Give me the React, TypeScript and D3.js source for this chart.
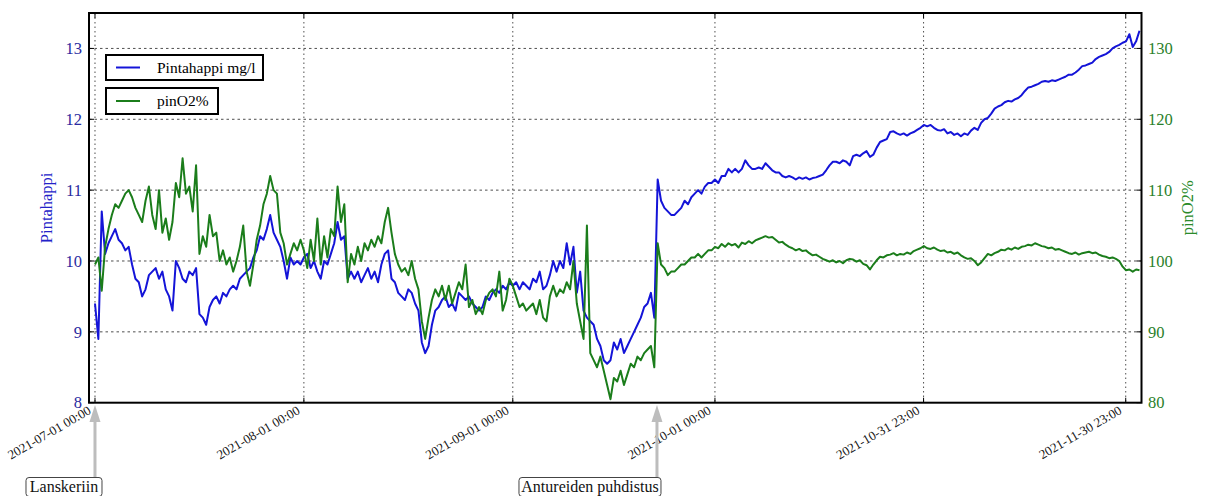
import * as d3 from 'd3'

// 12-hour samples starting 2021-07-01 00:00
const startTime = '2021-07-01T00:00:00Z'
const stepHours = 12

const pintahappi = [
  9.4, 8.9, 10.7, 10.1, 10.25, 10.35, 10.45, 10.3, 10.25, 10.15,
  10.2, 9.95, 9.75, 9.7, 9.5, 9.6, 9.8, 9.85, 9.9, 9.75,
  9.85, 9.6, 9.5, 9.3, 10.0, 9.9, 9.75, 9.7, 9.85, 9.8,
  9.9, 9.25, 9.2, 9.1, 9.35, 9.45, 9.5, 9.4, 9.55, 9.5,
  9.6, 9.65, 9.6, 9.75, 9.8, 9.85, 9.9, 10.05, 10.15, 10.35,
  10.3, 10.45, 10.65, 10.4, 10.3, 10.2, 10.0, 9.75, 10.05, 9.95,
  10.0, 9.95, 10.05, 10.1, 9.9, 10.0, 9.85, 9.75, 10.0, 9.95,
  10.1, 10.25, 10.55, 10.3, 10.35, 9.75, 9.85, 9.75, 9.85, 9.7,
  9.8, 9.9, 9.75, 9.85, 9.7, 9.95, 10.1, 10.15, 9.75, 9.7,
  9.55, 9.5, 9.45, 9.6, 9.55, 9.4, 9.3, 8.85, 8.7, 8.8,
  9.1, 9.3, 9.35, 9.45, 9.5, 9.35, 9.4, 9.3, 9.55, 9.5,
  9.45, 9.5, 9.4, 9.35, 9.3, 9.35, 9.5, 9.45, 9.55, 9.6,
  9.55, 9.65, 9.6, 9.7, 9.65, 9.7, 9.6, 9.7, 9.65, 9.6,
  9.75, 9.7, 9.85, 9.6, 9.65, 9.8, 10.0, 9.85, 10.0, 9.9,
  10.25, 9.95, 10.2, 9.55, 9.85, 9.3, 9.2, 9.15, 9.1, 8.9,
  8.8, 8.6, 8.55, 8.6, 8.85, 8.75, 8.9, 8.7, 8.8, 8.9,
  9.0, 9.1, 9.2, 9.35, 9.4, 9.55, 9.2, 11.15, 10.85, 10.75,
  10.7, 10.65, 10.65, 10.7, 10.75, 10.85, 10.8, 10.9, 10.95, 11.0,
  10.95, 11.05, 11.1, 11.1, 11.15, 11.1, 11.2, 11.2, 11.3, 11.25,
  11.3, 11.25, 11.3, 11.42, 11.35, 11.3, 11.3, 11.32, 11.3, 11.38,
  11.33, 11.28, 11.25, 11.25, 11.2, 11.18, 11.2, 11.18, 11.15, 11.18,
  11.16, 11.18, 11.15, 11.17, 11.18, 11.2, 11.22, 11.28, 11.35, 11.4,
  11.4, 11.38, 11.42, 11.4, 11.35, 11.48, 11.5, 11.48, 11.52, 11.55,
  11.47, 11.5, 11.6, 11.68, 11.7, 11.72, 11.82, 11.83, 11.8, 11.78,
  11.8, 11.77, 11.8, 11.82, 11.85, 11.88, 11.92, 11.9, 11.92, 11.88,
  11.85, 11.84, 11.86, 11.8, 11.82, 11.78, 11.8, 11.76, 11.8, 11.78,
  11.84, 11.88, 11.85, 11.95, 12.0, 12.02, 12.08, 12.15, 12.18, 12.2,
  12.24, 12.26, 12.25, 12.28, 12.3, 12.34, 12.4, 12.45, 12.46, 12.48,
  12.5, 12.53, 12.54, 12.53, 12.55, 12.54, 12.56, 12.58, 12.6, 12.63,
  12.63, 12.66, 12.7, 12.75, 12.76, 12.78, 12.8, 12.85, 12.88, 12.9,
  12.92, 12.95, 13.0, 13.03, 13.05, 13.08, 13.1, 13.2, 13.02, 13.1,
  13.25,
]

const pinO2 = [
  99.5, 100.5, 95.8, 102, 104.5, 106.5, 108, 107.5, 108.5, 109.5,
  110, 109, 107.5, 106.5, 105.5, 108.5, 110.5, 106.5, 104.5, 110,
  104, 106, 103, 105.5, 111, 109, 114.5, 109.5, 110.5, 107,
  113.5, 101, 103.5, 102, 106.5, 103.5, 104, 100, 101.5, 99.5,
  100.5, 98.5, 100, 102, 105, 98.5, 96.5, 99.5, 103, 105,
  108, 109.5, 112, 110, 109.5, 104, 102.5, 99.5, 101, 102.5,
  101.5, 103, 101.5, 99, 103, 100, 106, 99.5, 103.5, 100.5,
  104.5, 103.5, 110.5, 105.5, 108, 97, 101, 99.5, 102, 100,
  102.5, 101.5, 103, 102, 103.5, 102.5, 105.5, 107.5, 104, 101,
  99.5, 98.5, 99, 98, 100, 97.5, 96, 91.5, 89, 92,
  94.5, 96, 95, 96.5, 94.5, 96.5, 94, 95.5, 97, 96,
  99.5, 93.5, 94.5, 92.5, 93.5, 92.5, 94.5, 95.5, 96, 95,
  98.5, 93, 94.5, 97.5, 96.5, 95, 93.5, 94, 93, 93.5,
  94, 92.5, 94.5, 92, 91.5, 95, 96.5, 95, 96, 95.5,
  97, 96, 100, 94, 91.5, 89, 105, 87, 86, 85,
  86.5, 84.5, 82.5, 80.5, 83.5, 83, 84.5, 82.5, 84, 85.5,
  85, 86.5, 86, 87, 87.5, 88, 85, 102.5, 99.5, 99,
  98, 98.5, 98.5, 99, 99.5, 99.5, 100, 100.5, 100.5, 101,
  100.5, 101, 101.5, 101.5, 102, 101.8, 102.4, 102, 102.5, 102.2,
  102.4, 101.9, 102.6, 102.4, 102.8, 102.5, 102.9, 103.1, 103.3, 103.5,
  103.3, 103.4, 103, 102.6, 102.7, 102.3, 102, 101.8, 101.5, 101.7,
  101.4, 101.5, 101.1, 100.8, 100.9, 100.6, 100.3, 100.1, 99.9, 100.1,
  99.8, 100, 99.7, 100.1, 100.3, 100.2, 99.9, 100.1, 99.6, 99.4,
  98.8, 99.5, 100.1, 100.6, 100.5, 100.8, 100.9, 101.1, 100.8, 101,
  100.9, 101.2, 101, 101.4, 101.6, 101.8, 102.1, 101.8, 101.7, 101.9,
  101.6, 101.4, 101.5, 101.2, 101.3, 101, 101.2, 100.8, 100.5, 100.3,
  100.4, 100, 99.4, 99.8, 100.4, 101, 100.8, 101.1, 101.3, 101.6,
  101.5, 101.8, 101.6, 101.9, 101.7, 102, 102.1, 102.3, 102.2, 102.5,
  102.3, 102.1, 102, 101.8, 101.9, 101.6, 101.7, 101.5, 101.3, 101.1,
  101, 101.2, 100.9, 101.1, 101.2, 101.3, 101.1, 101.2, 100.9, 100.7,
  100.6, 100.4, 100.5, 100.3, 100, 99.2, 98.7, 98.8, 98.5, 98.8,
  98.7,
]

const xTickLabels = [
  '2021-07-01 00:00',
  '2021-08-01 00:00',
  '2021-09-01 00:00',
  '2021-10-01 00:00',
  '2021-10-31 23:00',
  '2021-11-30 23:00',
]
const leftTicks = [8, 9, 10, 11, 12, 13]
const rightTicks = [80, 90, 100, 110, 120, 130]

const annotationLabels = ['Lanskeriin', 'Antureiden puhdistus']
const annotationTimes = ['2021-07-01T00:00:00Z', '2021-09-22T09:30:00Z']

const FONT = '"Liberation Serif", "DejaVu Serif", serif'
const BLUE = '#1414d8'
const GREEN = '#1b7d1b'

export default function App() {
  const W = 1205
  const H = 496
  const L = 89
  const R = 1141.5
  const T = 13
  const B = 402.7

  const x = d3
    .scaleUtc()
    .domain([new Date('2021-06-30T02:40:00Z'), new Date('2021-12-03T07:10:00Z')])
    .range([L, R])
  const yL = d3.scaleLinear().domain([8, 13.5]).range([B, T])
  const yR = d3.scaleLinear().domain([80, 135]).range([B, T])

  const t0 = new Date(startTime).getTime()
  const times = pintahappi.map((_, i) => new Date(t0 + i * stepHours * 3600e3))

  const blueLine = d3
    .line<number>()
    .x((_, i) => x(times[i]))
    .y(d => yL(d))
  const greenLine = d3
    .line<number>()
    .x((_, i) => x(times[i]))
    .y(d => yR(d))

  const tickDates = xTickLabels.map(s => new Date(s.replace(' ', 'T') + ':00Z'))
  const annX = annotationTimes.map(s => x(new Date(s)))
  const boxW = [76, 142]
  const boxOff = [-69, -138]

  return (
    <svg
      width={W}
      height={H}
      style={{ position: 'absolute', left: 0, top: 0, background: '#fff' }}
      fontFamily={FONT}
    >
      <defs>
        <clipPath id="plot">
          <rect x={L} y={T} width={R - L} height={B - T} />
        </clipPath>
      </defs>
      <rect x={0} y={0} width={W} height={H} fill="#fff" />

      {/* grid */}
      <g stroke="#222" strokeWidth={0.8} strokeDasharray="1.5,3">
        {tickDates.map((d, i) => (
          <line key={'gx' + i} x1={x(d)} x2={x(d)} y1={T} y2={B} />
        ))}
      </g>
      <g stroke="#222" strokeWidth={0.8} strokeDasharray="2.5,3">
        {leftTicks.slice(1).map(v => (
          <line key={'gy' + v} x1={L} x2={R} y1={yL(v)} y2={yL(v)} />
        ))}
      </g>

      {/* series */}
      <g clipPath="url(#plot)" fill="none" strokeLinejoin="round">
        <path d={blueLine(pintahappi) ?? ''} stroke={BLUE} strokeWidth={2} />
        <path d={greenLine(pinO2) ?? ''} stroke={GREEN} strokeWidth={2} />
      </g>

      {/* ticks */}
      <g stroke="#000" strokeWidth={1}>
        {tickDates.map((d, i) => (
          <g key={'tx' + i}>
            <line x1={x(d)} x2={x(d)} y1={B} y2={B - 5} />
            <line x1={x(d)} x2={x(d)} y1={T} y2={T + 5} />
          </g>
        ))}
        {leftTicks.map(v => (
          <line key={'tl' + v} x1={L} x2={L + 5} y1={yL(v)} y2={yL(v)} />
        ))}
        {rightTicks.map(v => (
          <line key={'tr' + v} x1={R} x2={R - 5} y1={yR(v)} y2={yR(v)} />
        ))}
      </g>

      {/* frame */}
      <rect x={L} y={T} width={R - L} height={B - T} fill="none" stroke="#000" strokeWidth={2} />

      {/* tick labels */}
      <g fontSize={16.5} fill="#2a2aa0" textAnchor="end">
        {leftTicks.map(v => (
          <text key={'ll' + v} x={82} y={yL(v)} dy="0.35em">
            {v}
          </text>
        ))}
      </g>
      <g fontSize={16.5} fill="#2a7f2a" textAnchor="start">
        {rightTicks.map(v => (
          <text key={'rl' + v} x={1148} y={yR(v)} dy="0.35em">
            {v}
          </text>
        ))}
      </g>
      <g fontSize={13} fill="#111" textAnchor="end">
        {tickDates.map((d, i) => (
          <text key={'xl' + i} transform={`translate(${x(d) - 3},${413}) rotate(-30)`}>
            {xTickLabels[i]}
          </text>
        ))}
      </g>

      {/* axis titles */}
      <text
        transform={`translate(52,${(T + B) / 2}) rotate(-90)`}
        textAnchor="middle"
        fontSize={16.5}
        fill="#2222c8"
      >
        Pintahappi
      </text>
      <text
        transform={`translate(1193,${(T + B) / 2}) rotate(-90)`}
        textAnchor="middle"
        fontSize={16.5}
        fill="#2a8a2a"
      >
        pinO2%
      </text>

      {/* legends */}
      <g>
        <rect x={106} y={55} width={157} height={25} fill="#fff" stroke="#000" strokeWidth={2} />
        <line x1={116} x2={140} y1={67.5} y2={67.5} stroke={BLUE} strokeWidth={2} />
        <text x={157} y={67.5} dy="0.35em" fontSize={15.5} fill="#000">
          Pintahappi mg/l
        </text>
        <rect x={106} y={88} width={112} height={26} fill="#fff" stroke="#000" strokeWidth={2} />
        <line x1={116} x2={140} y1={101} y2={101} stroke={GREEN} strokeWidth={2} />
        <text x={157} y={101} dy="0.35em" fontSize={15.5} fill="#000">
          pinO2%
        </text>
      </g>

      {/* annotations */}
      {annotationLabels.map((label, i) => (
        <g key={'an' + i}>
          <line x1={annX[i]} x2={annX[i]} y1={477} y2={420} stroke="#bdbdbd" strokeWidth={3} />
          <path
            d={`M${annX[i]},${405} L${annX[i] - 5.5},${422} L${annX[i] + 5.5},${422} Z`}
            fill="#bdbdbd"
          />
          <rect
            x={annX[i] + boxOff[i]}
            y={477.5}
            width={boxW[i]}
            height={19}
            rx={3}
            fill="#fff"
            stroke="#444"
            strokeWidth={1}
          />
          <text
            x={annX[i] + boxOff[i] + boxW[i] / 2}
            y={492}
            textAnchor="middle"
            fontSize={16}
            fill="#111"
          >
            {label}
          </text>
        </g>
      ))}
    </svg>
  )
}
